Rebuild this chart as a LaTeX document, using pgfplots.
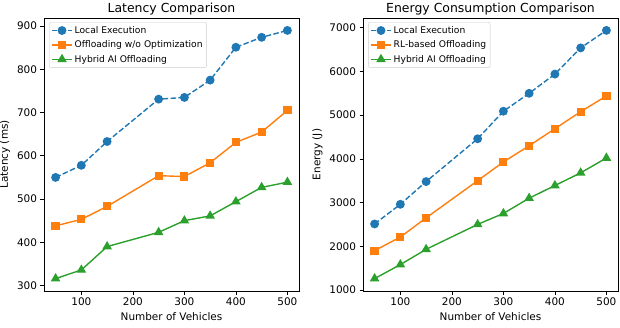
\documentclass[border=0pt]{standalone}
\usepackage{fontspec}
\setmainfont{DejaVu Sans}
\usepackage{pgfplots}
\pgfplotsset{compat=1.18}
\definecolor{c0}{HTML}{1F77B4}
\definecolor{c1}{HTML}{FF7F0E}
\definecolor{c2}{HTML}{2CA02C}
\pgfplotsset{
  mpl/.style={
    scale only axis,
    width=255bp, height=273bp,
    xmin=27.5, xmax=522.5,
    xtick={100,200,300,400,500},
    tick align=outside,
    tick pos=left,
    major tick length=3.5bp,
    every tick/.style={black, line width=0.6pt},
    axis line style={line width=0.6pt},
    /pgf/number format/assume math mode=true,
    /pgf/number format/set thousands separator={},
    ticklabel style={font=\fontsize{10.5}{12}\selectfont},
    label style={font=\fontsize{10.5}{12}\selectfont},
    every axis title/.style={font=\fontsize{12.5}{14}\selectfont, at={(0.5,1)}, anchor=base, yshift=5bp, inner sep=0pt},
    xlabel={Number of Vehicles},
    legend style={at={(0.02,0.985)}, anchor=north west, font=\fontsize{9.2}{11}\selectfont,
      draw=black!20, rounded corners=2pt, inner sep=2pt, row sep=2bp},
    legend cell align=left,
    legend image code/.code={\draw[mark repeat=2,mark phase=2,##1] plot coordinates {(0bp,0bp) (10bp,0bp) (20bp,0bp)};},
    every axis plot/.append style={line width=1.4bp},
  },
}
\begin{document}
\begin{tikzpicture}
\useasboundingbox (0,0) rectangle (620bp,328bp);
\begin{axis}[mpl, at={(44bp,37bp)}, anchor=south west,
  ymin=287.3, ymax=918.7, ytick={300,400,500,600,700,800,900},
  title={Latency Comparison}, ylabel={Latency (ms)}]
\addplot[c0, dash pattern=on 5.5bp off 2.4bp, mark=*, mark size=3.7bp, mark options={solid}] coordinates {
(50,550) (100,578) (150,633) (250,731) (300,735) (350,775) (400,851) (450,874) (500,890)};
\addlegendentry{Local Execution}
\addplot[c1, mark=square*, mark size=3.4bp] coordinates {
(50,438) (100,453) (150,483) (250,554) (300,552) (350,584) (400,631) (450,655) (500,705)};
\addlegendentry{Offloading w/o Optimization}
\addplot[c2, mark=triangle*, mark size=4.2bp] coordinates {
(50,316) (100,336) (150,390) (250,423) (300,450) (350,461) (400,494) (450,527) (500,539)};
\addlegendentry{Hybrid AI Offloading}
\end{axis}
\begin{axis}[mpl, at={(363bp,37bp)}, anchor=south west,
  ymin=976, ymax=7224, ytick={1000,2000,3000,4000,5000,6000,7000},
  title={Energy Consumption Comparison}, ylabel={Energy (J)}]
\addplot[c0, dash pattern=on 5.5bp off 2.4bp, mark=*, mark size=3.7bp, mark options={solid}] coordinates {
(50,2510) (100,2960) (150,3480) (250,4460) (300,5090) (350,5500) (400,5940) (450,6540) (500,6940)};
\addlegendentry{Local Execution}
\addplot[c1, mark=square*, mark size=3.4bp] coordinates {
(50,1900) (100,2210) (150,2650) (250,3500) (300,3930) (350,4300) (400,4690) (450,5080) (500,5440)};
\addlegendentry{RL-based Offloading}
\addplot[c2, mark=triangle*, mark size=4.2bp] coordinates {
(50,1260) (100,1580) (150,1930) (250,2500) (300,2750) (350,3100) (400,3390) (450,3680) (500,4020)};
\addlegendentry{Hybrid AI Offloading}
\end{axis}
\end{tikzpicture}
\end{document}
